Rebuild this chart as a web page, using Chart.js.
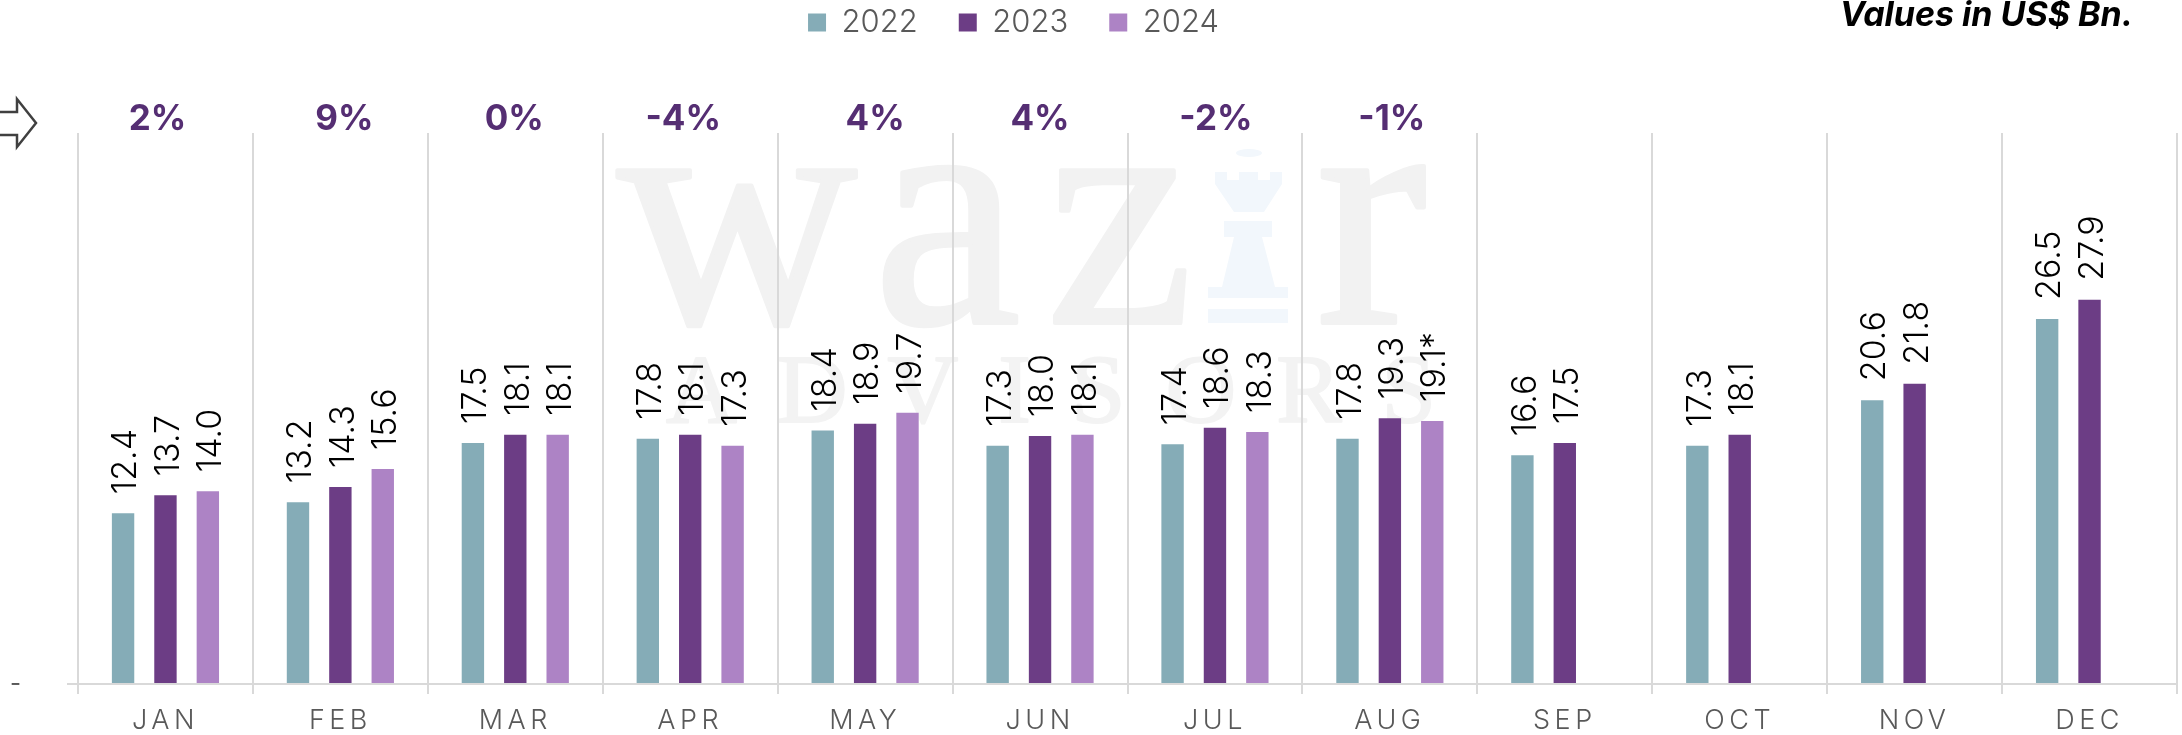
<!DOCTYPE html>
<html><head><meta charset="utf-8">
<script src="https://cdn.jsdelivr.net/npm/chart.js@4"></script>
<style>html,body{margin:0;padding:0;background:#fff;overflow:hidden}canvas{display:block}</style>
</head><body><canvas id="c" width="2182" height="735"></canvas>
<script>
const months = ['JAN','FEB','MAR','APR','MAY','JUN','JUL','AUG','SEP','OCT','NOV','DEC'];
const values2022 = [12.4,13.2,17.5,17.8,18.4,17.3,17.4,17.8,16.6,17.3,20.6,26.5];
const values2023 = [13.7,14.3,18.1,18.1,18.9,18.0,18.6,19.3,17.5,18.1,21.8,27.9];
const values2024 = [14.0,15.6,18.1,17.3,19.7,18.1,18.3,19.1,null,null,null,null];
const labels2022 = ['12.4','13.2','17.5','17.8','18.4','17.3','17.4','17.8','16.6','17.3','20.6','26.5'];
const labels2023 = ['13.7','14.3','18.1','18.1','18.9','18.0','18.6','19.3','17.5','18.1','21.8','27.9'];
const labels2024 = ['14.0','15.6','18.1','17.3','19.7','18.1','18.3','19.1*','','','',''];
const growth = ['2%','9%','0%','-4%','4%','4%','-2%','-1%'];
const growthNudge = [-8,4,-1,-7,10,0,1,2];
const seriesLabels = [labels2022,labels2023,labels2024];
const FONT = 'Inter, "Open Sans", sans-serif';

const decor = {
  id:'decor',
  beforeLayout(chart){
    const lg = chart.legend;
    if(lg && !lg._wrapped){
      const f = lg.fit;
      lg.fit = function(){ f.call(this); this.height = 167; };
      lg._wrapped = true;
    }
  },
  beforeDraw(chart){
    const ctx = chart.ctx;
    const xs = chart.scales.x;
    if(!xs._wrapped){
      const d = xs.drawLabels;
      xs.drawLabels = function(a){ ctx.letterSpacing='4.5px'; d.call(this,a); ctx.letterSpacing='0px'; };
      xs._wrapped = true;
    }
    // the legend sits left of centre in the source
    chart.legend.right = chart.width - 5 - 150;
    // watermark
    ctx.save();
    ctx.fillStyle='#f2f2f2'; ctx.strokeStyle='#f2f2f2'; ctx.lineWidth=4; ctx.lineJoin='round';
    ctx.textAlign='left'; ctx.textBaseline='alphabetic';
    ctx.font='400 333px "Liberation Serif", serif';
    [['w',617],['a',873],['z',1046],['r',1316]].forEach(([t,x])=>{ctx.fillText(t,x,323);ctx.strokeText(t,x,323);});
    ctx.font='400 98px "Liberation Serif", serif';
    ctx.letterSpacing='40px';
    ctx.fillStyle='#f3f3f3'; ctx.strokeStyle='#f3f3f3'; ctx.lineWidth=2;
    ctx.fillText('ADVISORS',666,422);
    ctx.strokeText('ADVISORS',666,422);
    ctx.letterSpacing='0px';
    // rook of the watermark
    ctx.fillStyle='#f2f7fc';
    ctx.beginPath();
    ctx.ellipse(1249,153,13,4,0,0,Math.PI*2);
    ctx.moveTo(1215,172);ctx.lineTo(1227,172);ctx.lineTo(1227,180);ctx.lineTo(1239,180);ctx.lineTo(1239,172);
    ctx.lineTo(1258,172);ctx.lineTo(1258,180);ctx.lineTo(1270,180);ctx.lineTo(1270,172);ctx.lineTo(1282,172);
    ctx.lineTo(1282,184);ctx.lineTo(1264,212);ctx.lineTo(1234,212);ctx.lineTo(1215,184);ctx.closePath();
    ctx.rect(1224,221,48,16);
    ctx.moveTo(1234,237);ctx.lineTo(1262,237);ctx.lineTo(1275,287);ctx.lineTo(1222,287);ctx.closePath();
    ctx.rect(1208,287,80,11);
    ctx.rect(1208,309,80,14);
    ctx.fill('evenodd');
    ctx.restore();
  },
  afterDatasetsDraw(chart){
    const ctx = chart.ctx;
    ctx.save();
    // rotated value labels
    ctx.fillStyle='#000';
    ctx.font='300 34px '+FONT;
    ctx.textAlign='left'; ctx.textBaseline='middle';
    chart.data.datasets.forEach((ds,i)=>{
      chart.getDatasetMeta(i).data.forEach((bar,j)=>{
        if(ds.data[j]==null) return;
        ctx.save();
        ctx.translate(bar.x,bar.y-19);
        ctx.rotate(-Math.PI/2);
        ctx.fillText(seriesLabels[i][j],0,3);
        ctx.restore();
      });
    });
    // growth row
    const xs = chart.scales.x;
    ctx.fillStyle='#552e73';
    ctx.font='700 35px '+FONT;
    ctx.textAlign='center'; ctx.textBaseline='middle';
    growth.forEach((g,i)=>ctx.fillText(g,xs.getPixelForValue(i)+growthNudge[i],119));
    // unit note
    ctx.fillStyle='#000';
    ctx.font='italic 700 34px '+FONT;
    ctx.textAlign='right'; ctx.textBaseline='alphabetic';
    ctx.fillText('Values in US$ Bn.',2133,26);
    // outline arrow
    ctx.strokeStyle='#404040'; ctx.lineWidth=2.5; ctx.lineJoin='miter';
    ctx.beginPath();
    ctx.moveTo(-2,112);ctx.lineTo(17,112);ctx.lineTo(17,99);ctx.lineTo(36,123);ctx.lineTo(17,147);ctx.lineTo(17,135);ctx.lineTo(-2,135);
    ctx.stroke();
    ctx.restore();
  }
};

new Chart(document.getElementById('c'),{
  type:'bar',
  data:{labels:months,datasets:[
    {label:'2022',data:values2022,backgroundColor:'#85acb7'},
    {label:'2023',data:values2023,backgroundColor:'#6c3d85'},
    {label:'2024',data:values2024,backgroundColor:'#ad83c5'}
  ]},
  options:{
    responsive:false,animation:false,
    categoryPercentage:0.727,barPercentage:0.528,
    layout:{padding:{top:-34,left:0,right:5,bottom:0}},
    plugins:{
      tooltip:{enabled:false},
      legend:{display:true,position:'top',align:'center',
        labels:{boxWidth:18,boxHeight:18,padding:41,color:'#595959',
          font:{family:FONT,size:31,weight:'300'}}}
    },
    scales:{
      x:{
        afterFit(s){s.height=51;},
        grid:{color:'#d9d9d9',lineWidth:2,tickLength:10,offset:true},
        border:{color:'#d9d9d9',width:2},
        ticks:{color:'#595959',padding:11,autoSkip:false,maxRotation:0,
          font:{family:FONT,size:27,weight:'300'}}
      },
      y:{
        min:0,max:40,
        afterFit(s){s.width=78;s.paddingBottom=0;s.paddingTop=0;},
        afterBuildTicks(s){s.ticks=s.ticks.filter(t=>t.value===0);},
        grid:{drawOnChartArea:false,color:'#d9d9d9',lineWidth:2,tickLength:11},
        border:{display:false},
        ticks:{color:'#595959',padding:46,stepSize:40,callback:()=>'-',
          font:{family:FONT,size:24,weight:'400'}}
      }
    }
  },
  plugins:[decor]
});
</script></body></html>
